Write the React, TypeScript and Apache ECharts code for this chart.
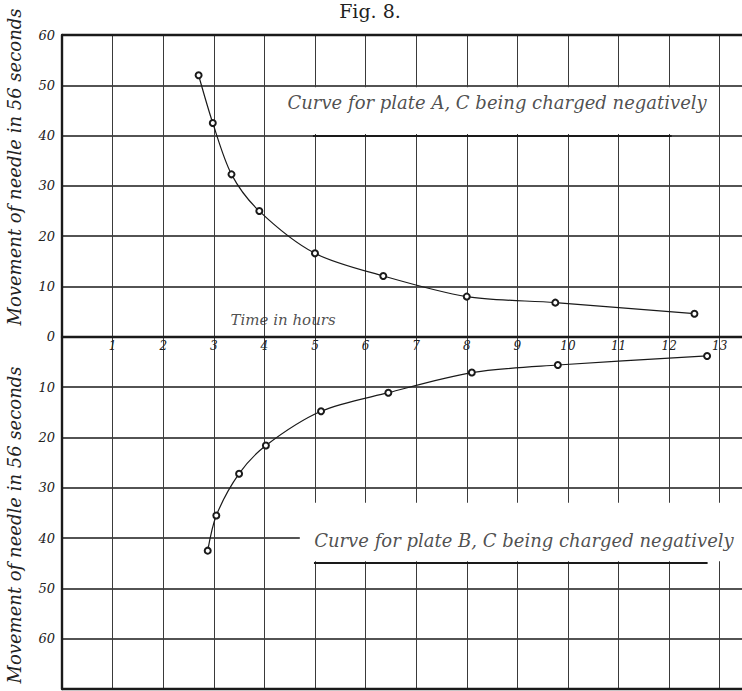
import React, { useEffect, useRef } from "react";
import * as echarts from "echarts";

// Plate A (upper curve): time in hours vs movement of needle in 56 seconds
const hoursA = [2.7, 2.98, 3.35, 3.9, 5.0, 6.35, 8.0, 9.75, 12.5];
const movementA = [52, 42.5, 32.3, 25, 16.6, 12.1, 8.0, 6.8, 4.6];

// Plate B (lower curve): magnitudes, drawn downward from the time axis
const hoursB = [2.88, 3.05, 3.5, 4.03, 5.12, 6.45, 8.1, 9.8, 12.75];
const movementB = [42.5, 35.5, 27.2, 21.6, 14.8, 11.1, 7.1, 5.6, 3.8];

const xMin = 0;
const xMax = 13.44;
const yMin = -70;
const yMax = 60;
const tickStep = 10;

const labelA = "Curve for plate A, C being charged negatively";
const labelB = "Curve for plate B, C being charged negatively";
const labelTime = "Time in hours";
const yTitle = "Movement of needle in 56 seconds";
const figTitle = "Fig. 8.";

const FONT = '"DejaVu Serif", "Liberation Serif", serif';
const INK = "#1a1a1a";

const GRID_TOP = 35;
const GRID_BOTTOM = 2;
const CHART_H = 691;

export default function App() {
  const ref = useRef<HTMLDivElement>(null);

  useEffect(() => {
    if (!ref.current) return;
    const chart = echarts.init(ref.current, undefined, { renderer: "svg" });

    const italic = (size: number) => ({
      fontFamily: FONT,
      fontStyle: "italic" as const,
      fontSize: size,
      color: "#222",
    });

    const gridH = CHART_H - GRID_TOP - GRID_BOTTOM;
    const zeroOffset = -((0 - yMin) / (yMax - yMin)) * gridH;

    const option: any = {
      animation: false,
      backgroundColor: "#ffffff",
      grid: {
        left: 62,
        top: GRID_TOP,
        right: 0,
        bottom: GRID_BOTTOM,
        containLabel: false,
        outerBoundsMode: "none",
      },
      xAxis: {
        type: "value",
        min: xMin,
        max: xMax,
        interval: 1,
        position: "bottom",
        offset: zeroOffset,
        axisLine: { show: true, onZero: false, lineStyle: { color: INK, width: 2.4 } },
        axisTick: { show: false },
        axisLabel: {
          ...italic(12),
          margin: 3,
          formatter: (v: number) => (Number.isInteger(v) && v > 0 ? String(v) : ""),
        },
        splitLine: { show: true, lineStyle: { color: "#3a3a3a", width: 1 } },
      },
      yAxis: {
        type: "value",
        min: yMin,
        max: yMax,
        interval: tickStep,
        axisLine: { show: true, onZero: false, lineStyle: { color: INK, width: 2.4 } },
        axisTick: { show: false },
        axisLabel: {
          ...italic(13),
          margin: 7,
          formatter: (v: number) => (v === yMin ? "" : String(Math.abs(v))),
        },
        splitLine: { show: true, lineStyle: { color: INK, width: 1.6 } },
      },
      graphic: [
        {
          type: "text",
          x: 14,
          y: 167,
          rotation: Math.PI / 2,
          style: {
            text: yTitle,
            fontFamily: FONT,
            fontStyle: "italic",
            fontSize: 18,
            fill: "#222",
            align: "center",
            verticalAlign: "middle",
          },
        },
        {
          type: "text",
          x: 14,
          y: 525,
          rotation: Math.PI / 2,
          style: {
            text: yTitle,
            fontFamily: FONT,
            fontStyle: "italic",
            fontSize: 18,
            fill: "#222",
            align: "center",
            verticalAlign: "middle",
          },
        },
        {
          type: "text",
          x: 370,
          y: 1,
          style: {
            text: figTitle,
            fontFamily: FONT,
            fontSize: 19,
            fill: "#222",
            align: "center",
            verticalAlign: "top",
          },
        },
      ],
      series: [
        {
          name: "frame",
          type: "scatter",
          z: 2,
          symbolSize: 0,
          silent: true,
          data: [[xMin, yMax]],
          markArea: {
            silent: true,
            itemStyle: { color: "#ffffff" },
            data: [
              [{ coord: [4.45, 49.6] }, { coord: [12.8, 40.3] }],
              [{ coord: [4.7, -33] }, { coord: [xMax, -44.6] }],
            ],
          },
          markLine: {
            silent: true,
            symbol: "none",
            label: { show: false },
            lineStyle: { color: INK, width: 2.4, type: "solid" },
            data: [{ yAxis: yMax }, { yAxis: yMin }],
          },
        },
        {
          name: "annotations",
          type: "scatter",
          z: 5,
          symbolSize: 0,
          silent: true,
          label: { show: true, position: "inside", color: "#222" },
          data: [
            { value: [8.6, 46.5], name: labelA, label: { formatter: labelA, ...italic(18) } },
            { value: [9.13, -40.4], name: labelB, label: { formatter: labelB, ...italic(18) } },
            { value: [4.37, 3.4], name: labelTime, label: { formatter: labelTime, ...italic(15) } },
          ],
          markLine: {
            silent: true,
            symbol: "none",
            label: { show: false },
            lineStyle: { color: INK, width: 2.2, type: "solid" },
            data: [
              [{ coord: [4.96, 40] }, { coord: [12.05, 40] }],
              [{ coord: [4.98, -45] }, { coord: [12.76, -45] }],
            ],
          },
        },
        {
          name: "Plate A",
          type: "line",
          z: 6,
          smooth: 0.3,
          symbol: "emptyCircle",
          symbolSize: 6,
          lineStyle: { color: INK, width: 1.2 },
          itemStyle: { color: INK, borderWidth: 1 },
          data: hoursA.map((h, i) => [h, movementA[i]]),
        },
        {
          name: "Plate B",
          type: "line",
          z: 6,
          smooth: 0.3,
          symbol: "emptyCircle",
          symbolSize: 6,
          lineStyle: { color: INK, width: 1.2 },
          itemStyle: { color: INK, borderWidth: 1 },
          data: hoursB.map((h, i) => [h, -movementB[i]]),
        },
      ],
    };

    chart.setOption(option);
    return () => chart.dispose();
  }, []);

  return (
    <div
      ref={ref}
      style={{ position: "fixed", left: 0, top: 0, width: 742, height: 691, background: "#fff" }}
    />
  );
}
